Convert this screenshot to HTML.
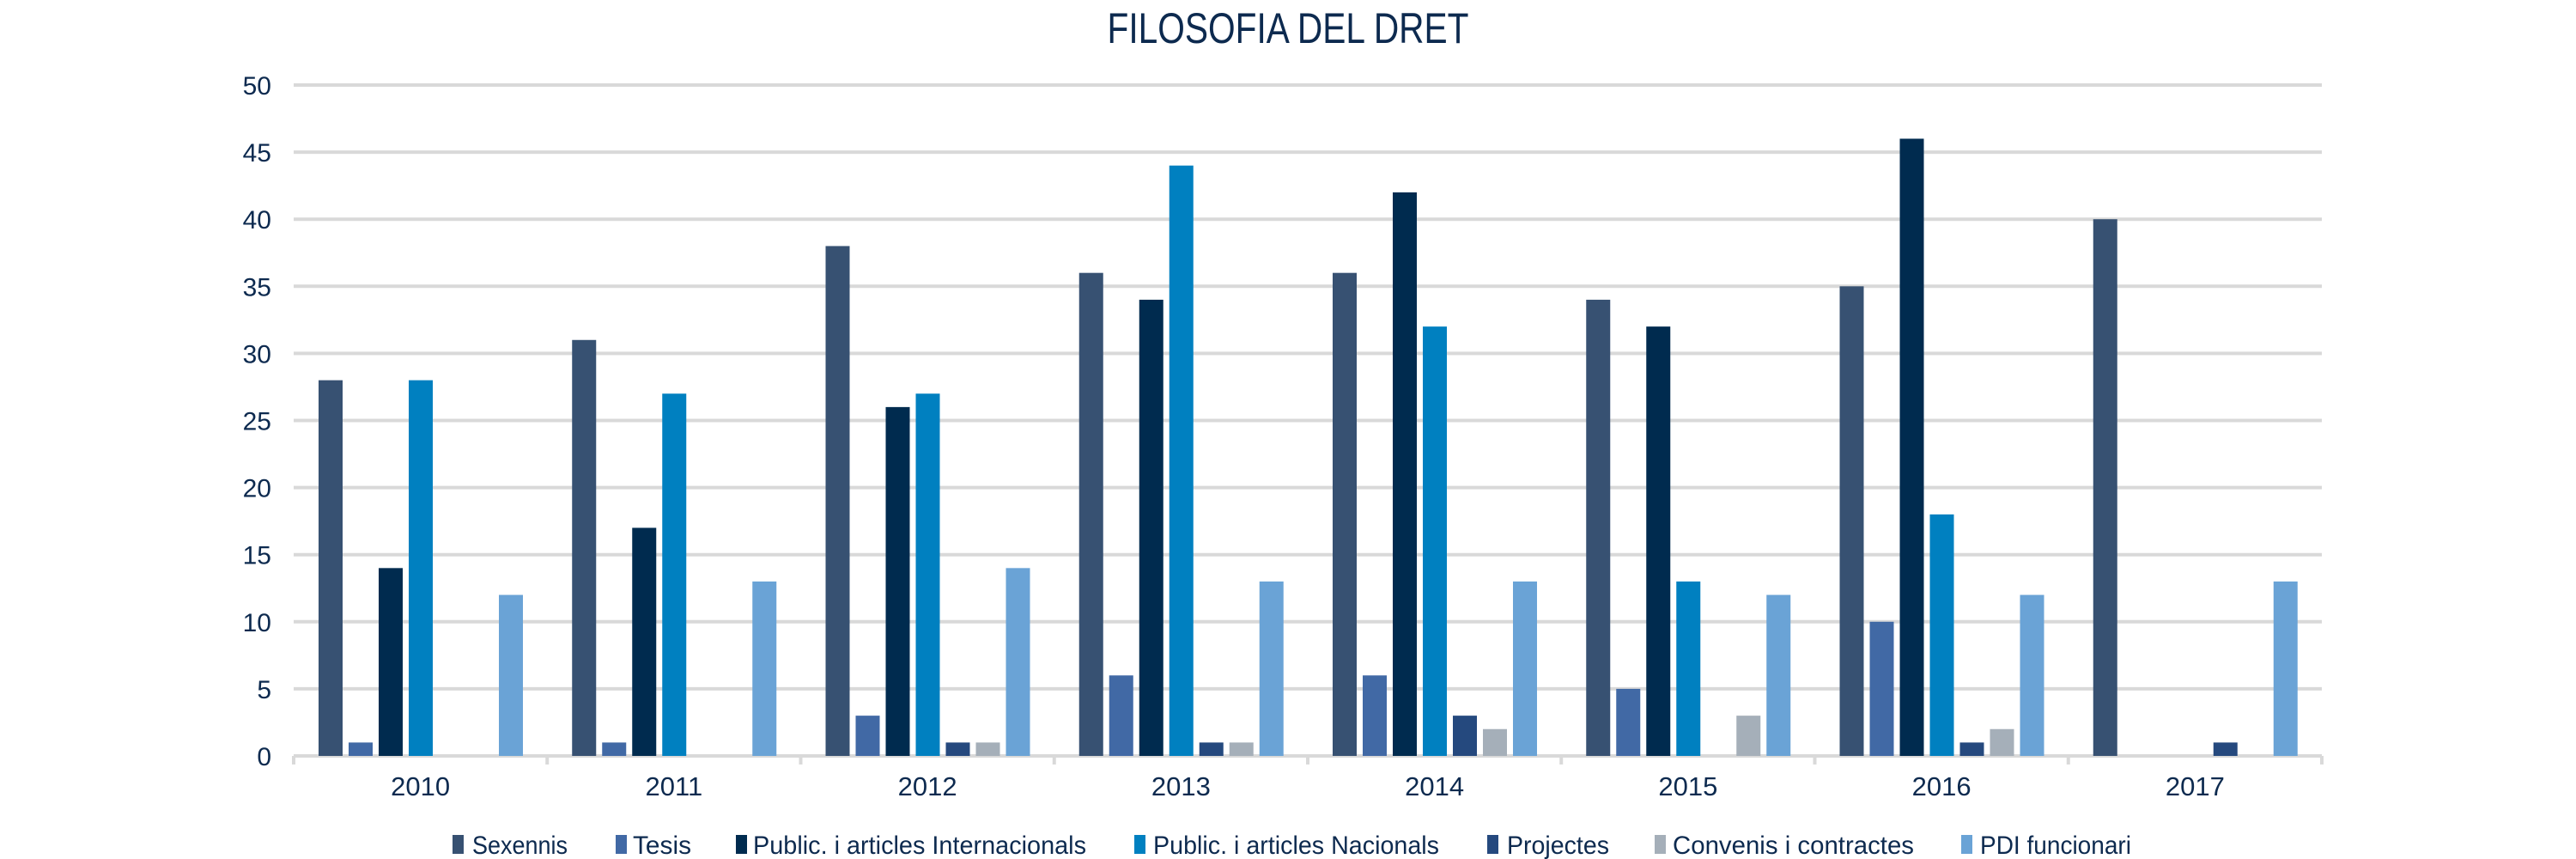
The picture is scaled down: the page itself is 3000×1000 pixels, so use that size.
<!DOCTYPE html>
<html><head><meta charset="utf-8"><style>
html,body{margin:0;padding:0;background:#fff}
svg{display:block}
text{font-family:"Liberation Sans",sans-serif;fill:#0d2a4f}
</style></head><body>
<svg id="c" width="3000" height="1000" viewBox="0 0 3000 1000" xmlns="http://www.w3.org/2000/svg">
<text x="1500" y="50" font-size="50" text-anchor="middle" textLength="421" lengthAdjust="spacingAndGlyphs">FILOSOFIA DEL DRET</text>
<g id="grid" stroke="#d9d9d9" stroke-width="4"></g>
<g id="ylab" font-size="30"></g>
<g id="bars"></g>
<g id="xlab" font-size="31"></g>
<g font-size="30">
<rect x="527" y="972" width="13" height="22" fill="#375172"/><text x="550" y="994" textLength="111" lengthAdjust="spacingAndGlyphs">Sexennis</text>
<rect x="717" y="972" width="13" height="22" fill="#4169a5"/><text x="737" y="994" textLength="68" lengthAdjust="spacingAndGlyphs">Tesis</text>
<rect x="857" y="972" width="13" height="22" fill="#002b4f"/><text x="877" y="994" textLength="388" lengthAdjust="spacingAndGlyphs">Public. i articles Internacionals</text>
<rect x="1321" y="972" width="13" height="22" fill="#0080c0"/><text x="1343" y="994" textLength="333" lengthAdjust="spacingAndGlyphs">Public. i articles Nacionals</text>
<rect x="1732" y="972" width="13" height="22" fill="#25497e"/><text x="1755" y="994" textLength="119" lengthAdjust="spacingAndGlyphs">Projectes</text>
<rect x="1927" y="972" width="13" height="22" fill="#a5afb9"/><text x="1948" y="994" textLength="281" lengthAdjust="spacingAndGlyphs">Convenis i contractes</text>
<rect x="2284" y="972" width="13" height="22" fill="#6aa3d6"/><text x="2306" y="994" textLength="176" lengthAdjust="spacingAndGlyphs">PDI funcionari</text>
</g>
</svg>
<script>
var NS="http://www.w3.org/2000/svg";
function el(p,t,a,tx){var e=document.createElementNS(NS,t);for(var k in a)e.setAttribute(k,a[k]);if(tx!=null)e.textContent=tx;p.appendChild(e);return e;}
var L=342,R=2704,Y0=880,U=15.62;
var g=document.getElementById('grid'),yl=document.getElementById('ylab');
for(var v=0;v<=50;v+=5){var y=Y0-v*U;if(v>0)el(g,'line',{x1:L,x2:R,y1:y,y2:y});el(yl,'text',{x:316,y:y+11,'text-anchor':'end'},v);}
el(g,'line',{x1:L,x2:R,y1:Y0,y2:Y0});
var cw=(R-L)/8;
for(var i=0;i<=8;i++){el(g,'line',{x1:L+i*cw,x2:L+i*cw,y1:Y0,y2:890});}
var data=[[28,1,14,28,0,0,12],[31,1,17,27,0,0,13],[38,3,26,27,1,1,14],[36,6,34,44,1,1,13],[36,6,42,32,3,2,13],[34,5,32,13,0,3,12],[35,10,46,18,1,2,12],[40,0,0,0,1,0,13]];
var col=['#375172','#4169a5','#002b4f','#0080c0','#25497e','#a5afb9','#6aa3d6'];
var b=document.getElementById('bars'),xl=document.getElementById('xlab');
data.forEach(function(d,i){var x0=L+i*cw+29;d.forEach(function(v,j){if(v>0)el(b,'rect',{x:x0+j*35,y:Y0-v*U,width:28,height:v*U,fill:col[j]});});
el(xl,'text',{x:L+i*cw+cw/2,y:926,'text-anchor':'middle'},2010+i);});
</script>
</body></html>
